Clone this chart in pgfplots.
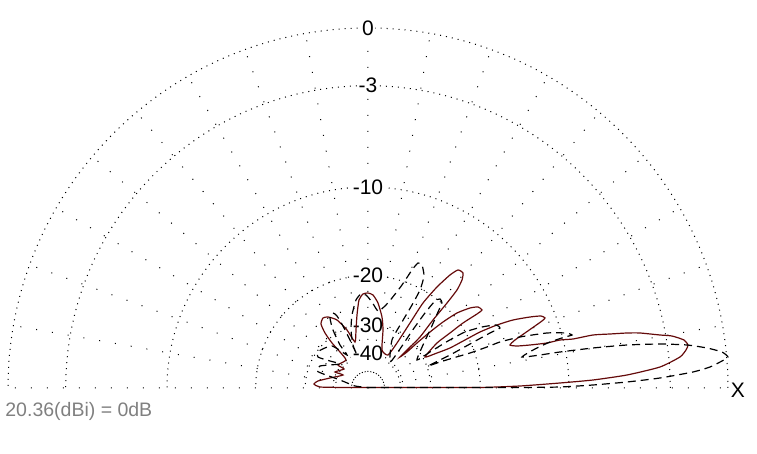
\documentclass[border=0pt]{standalone}
\usepackage{fontspec}
\setmainfont{Liberation Sans}
\usepackage{pgfplots}
\pgfplotsset{compat=1.18}
\usepgfplotslibrary{polar}
\definecolor{patred}{RGB}{100,10,10}
\definecolor{notegray}{RGB}{128,128,128}
\tikzset{lbl/.style={fill=white, inner sep=0.8pt, font=\fontsize{10.5}{11}\selectfont}}

\begin{document}
\begin{tikzpicture}
\begin{polaraxis}[
  scale only axis, width=360pt,
  xmin=0, xmax=180, ymin=0, ymax=360,
  xtick={0,10,...,180},
  ytick={35,62.7,112.3,201,302.3,360},
  xticklabels={}, yticklabels={},
  axis line style={draw=none},
  major tick length=0pt,
  grid=major,
  x grid style={black, line width=0.5pt, dash pattern=on 0.5pt off 7.5pt},
  y grid style={black, line width=0.5pt, dash pattern=on 0.5pt off 2.5pt},
  clip=false,
]
% ring labels (ARRL log scale, dB)
\node[lbl] at (axis cs:90,360) {0};
\node[lbl] at (axis cs:90,302.3) {-3};
\node[lbl] at (axis cs:90,201) {-10};
\node[lbl] at (axis cs:90,112.3) {-20};
\node[lbl] at (axis cs:90,62.7) {-30};
\node[lbl] at (axis cs:90,35) {-40};
\node[font=\fontsize{10.5}{11}\selectfont] at (axis cs:0,370) [yshift=-1pt] {X};
\node[font=\fontsize{9.75}{11}\selectfont, text=notegray, anchor=west, inner sep=0pt]
  at (axis cs:180,363) [yshift=-11.5pt] {20.36(dBi) = 0dB};
\coordinate (O) at (axis cs:0,0);

% solid pattern (px offsets from centre, 360 = 0 dB)
\addplot[data cs=cart, color=patred, line width=0.6pt, smooth, tension=0.35] coordinates {
(0,0.5) (52,0.5) (112,0.5) (152,2) (192,5) (225,8) (259,13) (292,21) (312,31)
(318,38) (320,43) (316,48) (304,52) (292,53) (272,55) (259,55) (242,54) (225,53)
(205,49) (192,48) (179,45) (162,43) (149,42) (142,43)
(147,48) (157,55) (167,62) (174,67) (177,70) (173,72) (162,71) (145,68) (129,63)
(112,56) (97,48) (82,40) (69,35) (57,31)
(69,45) (82,55) (95,65) (109,74) (114,78) (110,81) (102,80) (89,75) (75,66)
(62,56) (49,45) (39,36) (32,31)
(39,38) (52,51) (65,68) (79,85) (89,98) (94,108) (95,115) (90,118) (82,113)
(69,101) (55,85) (42,65) (29,45) (20,33)
(14,38) (15,58) (14,71) (10,85) (5,93) (0,95) (-5,94) (-9,88) (-11,73) (-12,58) (-13,46)
(-21,58) (-31,68) (-40,71) (-45,70) (-47,64) (-43,55) (-36,45) (-28,36) (-22,28)
(-30,23) (-24,19) (-33,16) (-25,13) (-38,10) (-50,7) (-54,4) (-48,1) (-23,0.5) (0,0.5)
};

% dashed pattern
\addplot[data cs=cart, color=black, line width=0.6pt, dash pattern=on 4pt off 2.5pt, smooth, tension=0.35] coordinates {
(0,0.5) (84,0.5) (152,0.5) (192,1) (225,3) (259,6) (292,10) (325,16) (342,21)
(354,27) (360,31) (354,36) (339,40) (319,43) (292,44) (259,43) (225,40) (192,36)
(172,33) (154,31)
(167,39) (182,46) (197,51) (204,53) (198,55) (179,55) (152,51) (132,46) (119,41)
(102,35) (85,30) (72,26) (60,22)
(82,33) (102,44) (122,55) (132,60) (128,63) (114,61) (97,56) (80,47) (62,36) (49,28)
(55,43) (63,60) (70,76) (74,85) (72,89) (67,87) (57,75) (44,57) (32,39) (22,26)
(24,48) (34,66) (44,83) (52,98) (56,112) (54,123) (50,125) (44,118) (34,103)
(24,90) (17,82) (10,77)
(4,86) (-2,93) (-7,94) (-12,88) (-16,73) (-17,58) (-15,43) (-11,33)
(-18,48) (-25,62) (-31,72) (-35,75) (-38,70) (-35,58) (-28,43) (-21,33)
(-36,42) (-49,37) (-50,31) (-38,27) (-28,24) (-48,22) (-51,17) (-42,13) (-28,8)
(-13,2) (0,0.5)
};
\end{polaraxis}
\pgfresetboundingbox
\path[use as bounding box] (O) ++(-184pt,-33pt) rectangle ++(378.5pt,227pt);
\end{tikzpicture}
\end{document}
